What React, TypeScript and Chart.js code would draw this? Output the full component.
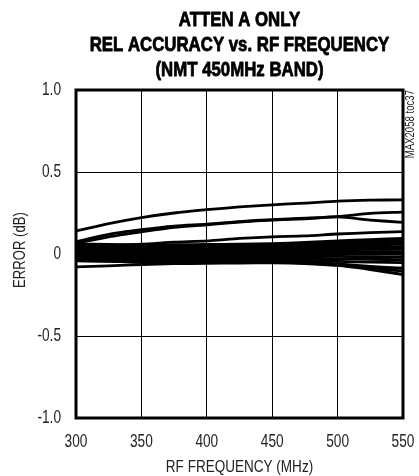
import React, { useEffect, useRef } from "react";
import { Chart, registerables } from "chart.js";

Chart.register(...registerables);

const freqs = [300, 325, 350, 375, 400, 425, 450, 475, 500, 525, 550];

const curveTop = [0.14, 0.185, 0.222, 0.25, 0.27, 0.287, 0.3, 0.31, 0.322, 0.328, 0.33];
const curveUpperA = [0.075, 0.12, 0.148, 0.17, 0.182, 0.198, 0.21, 0.218, 0.228, 0.248, 0.255];
const curveUpperB = [0.065, 0.105, 0.135, 0.162, 0.178, 0.195, 0.207, 0.215, 0.226, 0.207, 0.193];
const curveMid = [0.05, 0.055, 0.06, 0.072, 0.08, 0.095, 0.105, 0.11, 0.122, 0.13, 0.136];
const curveBottom = [-0.078, -0.072, -0.064, -0.059, -0.057, -0.055, -0.054, -0.058, -0.07, -0.095, -0.125];
const band1 = [0.062, 0.058, 0.055, 0.057, 0.058, 0.06, 0.063, 0.07, 0.08, 0.088, 0.095];
const band2 = [0.05, 0.045, 0.042, 0.045, 0.048, 0.052, 0.058, 0.062, 0.07, 0.078, 0.085];
const band3 = [0.04, 0.035, 0.033, 0.035, 0.038, 0.042, 0.048, 0.052, 0.06, 0.066, 0.072];
const band4 = [0.03, 0.027, 0.025, 0.027, 0.03, 0.033, 0.038, 0.042, 0.048, 0.055, 0.06];
const band5 = [0.02, 0.018, 0.016, 0.018, 0.022, 0.025, 0.03, 0.033, 0.036, 0.042, 0.045];
const band6 = [0.01, 0.008, 0.006, 0.008, 0.012, 0.016, 0.02, 0.022, 0.025, 0.028, 0.03];
const band7 = [0.0, -0.002, -0.004, -0.002, 0.002, 0.006, 0.01, 0.012, 0.012, 0.014, 0.015];
const band8 = [-0.01, -0.012, -0.014, -0.012, -0.008, -0.004, 0.0, 0.0, 0.0, 0.0, 0.0];
const band9 = [-0.02, -0.022, -0.024, -0.022, -0.018, -0.014, -0.01, -0.012, -0.015, -0.016, -0.018];
const band10 = [-0.03, -0.032, -0.033, -0.032, -0.028, -0.024, -0.022, -0.025, -0.03, -0.032, -0.035];
const band11 = [-0.038, -0.04, -0.042, -0.04, -0.037, -0.034, -0.033, -0.038, -0.045, -0.05, -0.052];
const band12 = [-0.042, -0.045, -0.048, -0.047, -0.045, -0.043, -0.045, -0.05, -0.06, -0.075, -0.087];
const band13 = [-0.04, -0.044, -0.05, -0.05, -0.048, -0.047, -0.05, -0.056, -0.068, -0.085, -0.104];

const allSeries = [
  curveTop, curveUpperA, curveUpperB, curveMid, curveBottom,
  band1, band2, band3, band4, band5, band6, band7, band8, band9, band10, band11, band12, band13,
];

const xTicks = [300, 350, 400, 450, 500, 550];
const xTickLabels = ["300", "350", "400", "450", "500", "550"];
const yTickValues = [-1, -0.5, 0, 0.5, 1];
const yTickLabels = ["-1.0", "-0.5", "0", "0.5", "1.0"];

const titleLines = ["ATTEN A ONLY", "REL ACCURACY vs. RF FREQUENCY", "(NMT 450MHz BAND)"];
const xTitle = "RF FREQUENCY (MHz)";
const yTitle = "ERROR (dB)";
const sideNote = "MAX2058 toc37";

const SANS = '"Liberation Sans", Arial, sans-serif';

function drawText(
  ctx: CanvasRenderingContext2D,
  text: string,
  x: number,
  y: number,
  font: string,
  sx: number,
  align: CanvasTextAlign,
  rot = 0,
  color = "#000",
  stroke = 0
) {
  ctx.save();
  ctx.translate(x, y);
  if (rot) ctx.rotate(rot);
  ctx.scale(sx, 1);
  ctx.font = font;
  ctx.fillStyle = color;
  ctx.textAlign = align;
  ctx.textBaseline = "middle";
  ctx.fillText(text, 0, 0);
  if (stroke > 0) {
    ctx.strokeStyle = color;
    ctx.lineWidth = stroke;
    ctx.lineJoin = "round";
    ctx.strokeText(text, 0, 0);
  }
  ctx.restore();
}

export default function App() {
  const ref = useRef<HTMLCanvasElement | null>(null);

  useEffect(() => {
    if (!ref.current) return;
    const textPlugin = {
      id: "texts",
      afterDraw(chart: any) {
        const ctx = chart.ctx as CanvasRenderingContext2D;
        const a = chart.chartArea;
        const xs = chart.scales.x;
        const ys = chart.scales.y;
        ctx.save();
        ctx.strokeStyle = "#000";
        ctx.lineWidth = 3;
        ctx.strokeRect(a.left, a.top, a.right - a.left, a.bottom - a.top);
        ctx.restore();

        const cx = (a.left + a.right) / 2;
        const tys = [20, 45, 70];
        titleLines.forEach((t, i) => drawText(ctx, t, cx, tys[i], `bold 20px ${SANS}`, 0.84, "center", 0, "#000", 0.8));

        xTicks.forEach((v, i) =>
          drawText(ctx, xTickLabels[i], xs.getPixelForValue(v), a.bottom + 24, `17.5px ${SANS}`, 0.78, "center", 0, "#222")
        );
        yTickValues.forEach((v, i) =>
          drawText(ctx, yTickLabels[i], a.left - 15, ys.getPixelForValue(v), `17.5px ${SANS}`, 0.78, "right", 0, "#222")
        );

        drawText(ctx, xTitle, cx, 467, `16.5px ${SANS}`, 0.82, "center", 0, "#222");
        drawText(ctx, yTitle, 21, 250, `16px ${SANS}`, 0.82, "center", -Math.PI / 2, "#222");
        drawText(ctx, sideNote, 411, a.top, `12px ${SANS}`, 0.8, "right", -Math.PI / 2, "#222");
      },
    };

    const chart = new Chart(ref.current, {
      type: "line",
      data: {
        datasets: allSeries.map((s) => ({
          data: s.map((v, i) => ({ x: freqs[i], y: v })),
          borderColor: "#000",
          borderWidth: 2.8,
          pointRadius: 0,
          tension: 0.25,
          fill: false,
        })),
      },
      options: {
        animation: false,
        responsive: false,
        events: [],
        layout: { padding: { top: 90, right: 16, left: 0, bottom: 0 } },
        plugins: { legend: { display: false }, tooltip: { enabled: false }, title: { display: false } },
        scales: {
          x: {
            type: "linear",
            min: 300,
            max: 550,
            afterFit: (s: any) => { s.height = 58; },
            afterBuildTicks: (s: any) => { s.ticks = xTicks.map((v) => ({ value: v })); },
            ticks: { display: false },
            grid: { color: "#000", lineWidth: 1, drawTicks: false },
            border: { display: false },
          },
          y: {
            min: -1,
            max: 1,
            afterFit: (s: any) => { s.width = 76; },
            afterBuildTicks: (s: any) => { s.ticks = yTickValues.map((v) => ({ value: v })); },
            ticks: { display: false },
            grid: { color: "#000", lineWidth: 1, drawTicks: false },
            border: { display: false },
          },
        },
      },
      plugins: [textPlugin],
    });
    return () => chart.destroy();
  }, []);

  return (
    <div style={{ position: "absolute", left: 0, top: 0, width: 419, height: 476, background: "#fff" }}>
      <canvas ref={ref} width={419} height={476} />
    </div>
  );
}
